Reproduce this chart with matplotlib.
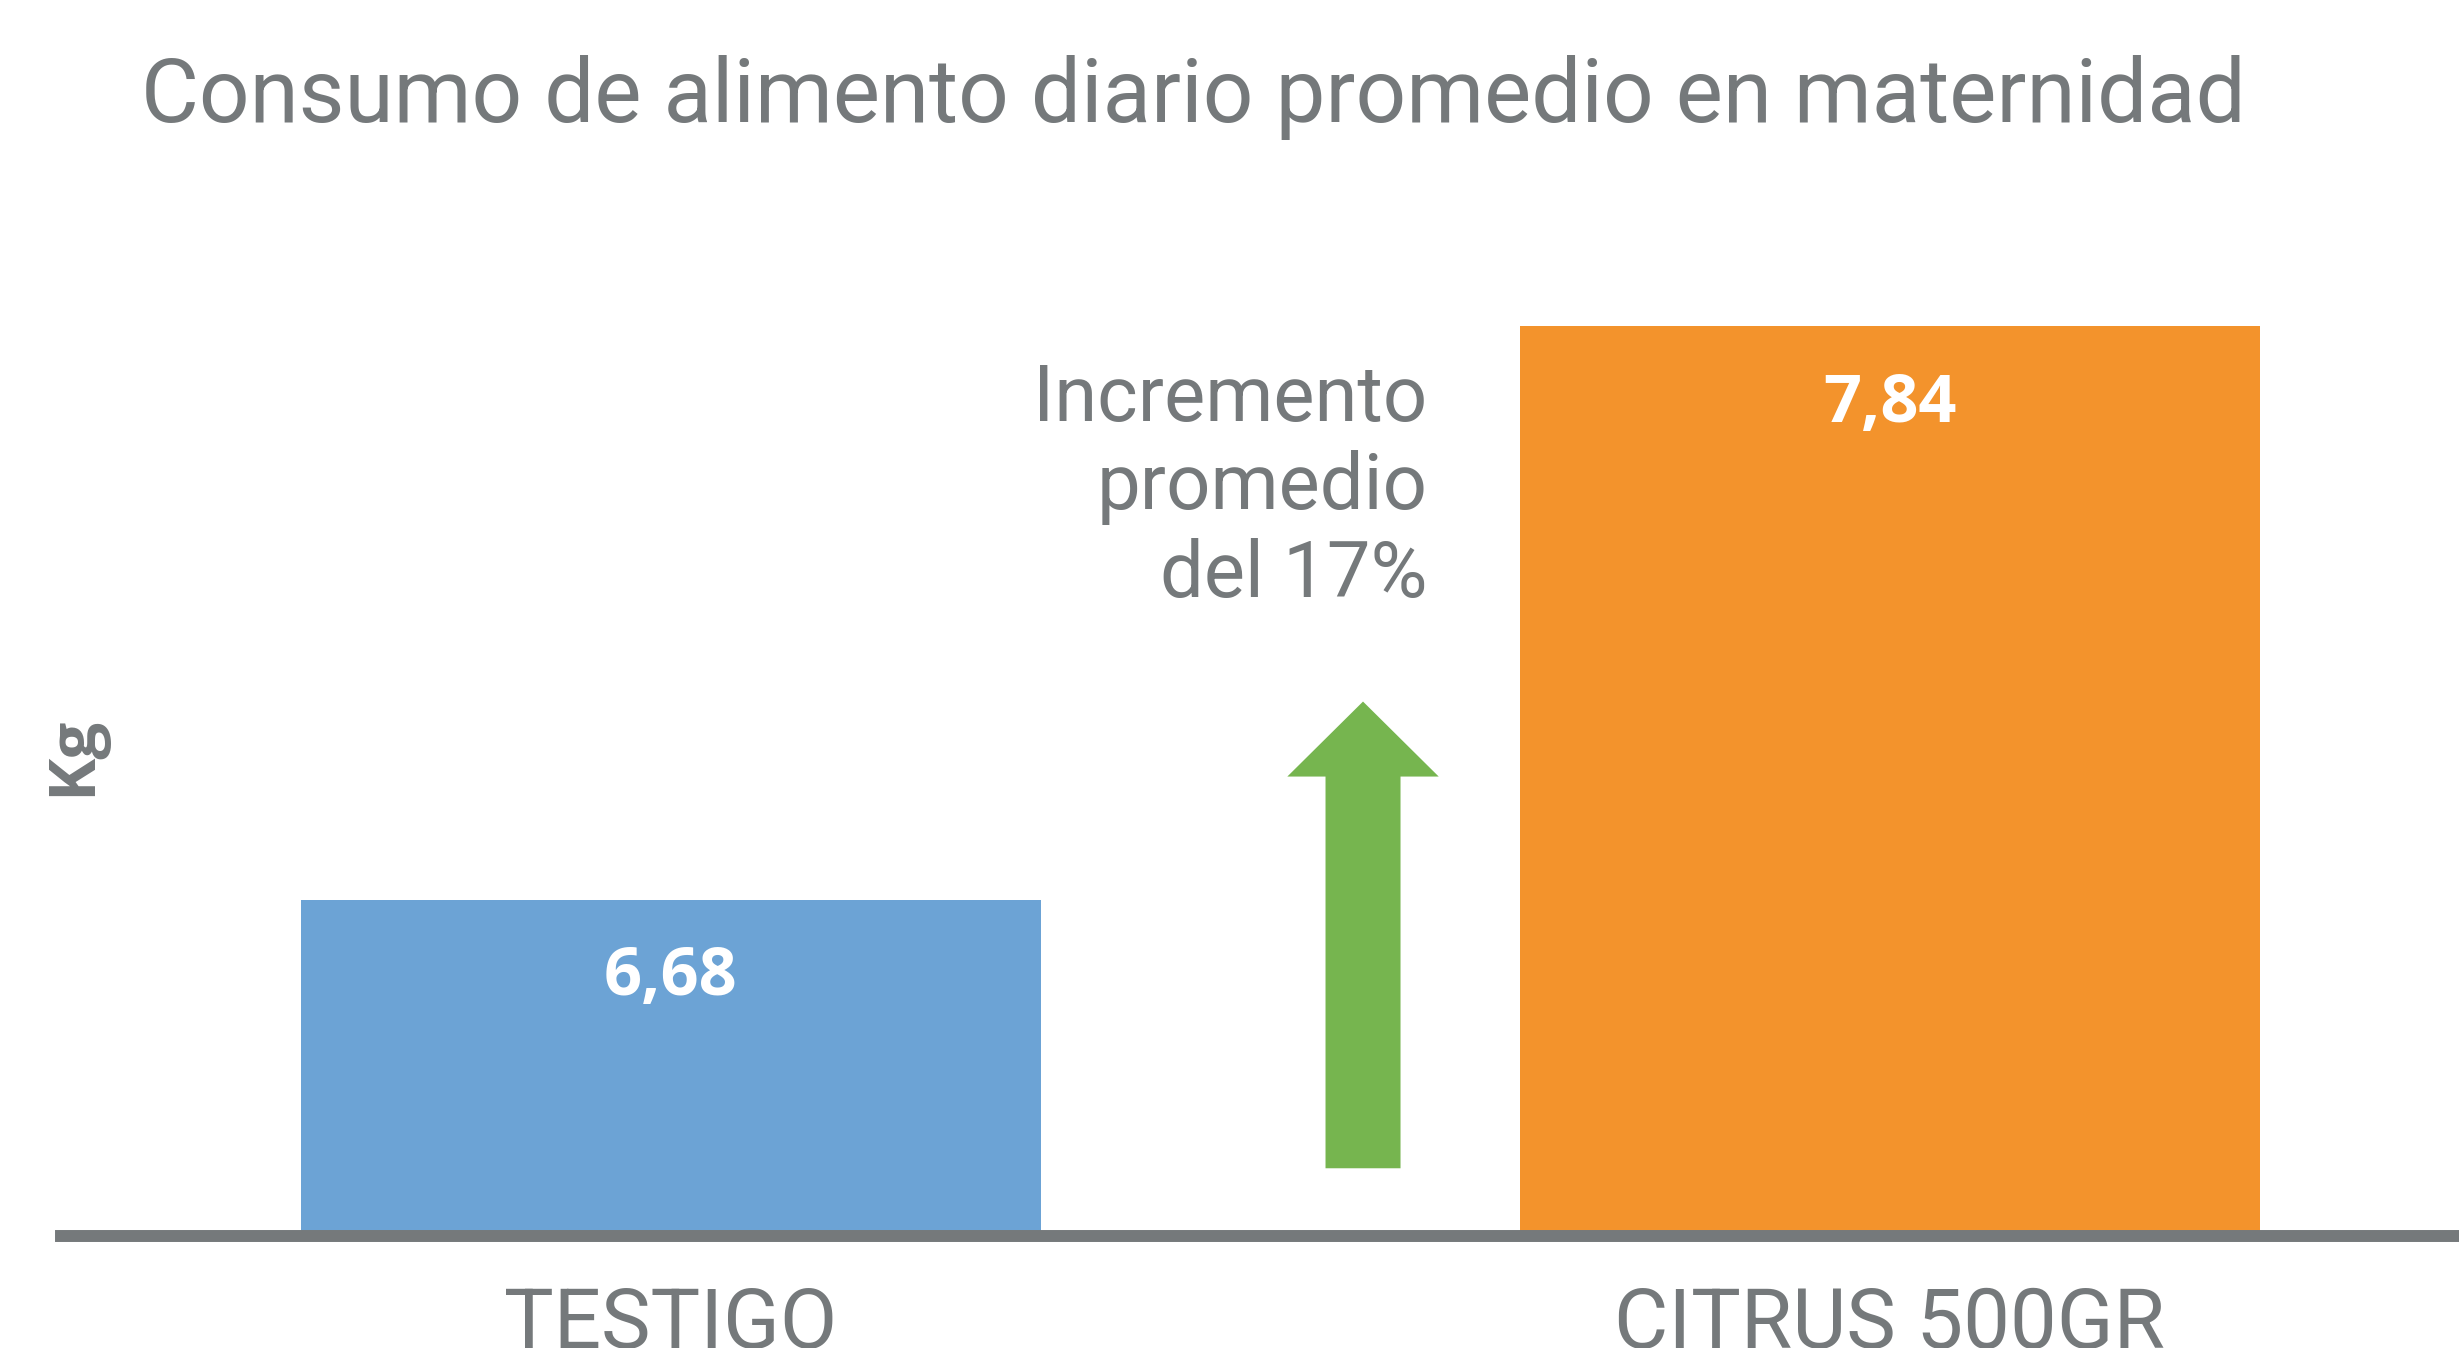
import numpy as np
import matplotlib.pyplot as plt

# datos
grupos = ['TESTIGO', 'CITRUS 500GR']
consumo = [6.68, 7.84]
etiquetas = ['6,68', '7,84']
colores = ['#6ca3d5', '#f3932c']

gris = '#75797b'
verde = '#76b54f'

fig = plt.figure(figsize=(24.59, 13.48), dpi=100)
ax = fig.add_axes([61 / 2459, 112 / 1348, 1 - 61 / 2459, 1236 / 1348])

base = 6.0
x = np.arange(len(grupos))
ax.bar(x, np.array(consumo) - base, bottom=base, width=0.607, color=colores, zorder=2)

for xi, v, t in zip(x, consumo, etiquetas):
    ax.annotate(t, (xi, v), xytext=(0, -56), textcoords='offset points',
                ha='center', va='center', color='white', fontsize=48,
                fontweight='bold', family='Open Sans')

ax.set_xlim(-0.5, 1.467)
ax.set_ylim(base, 8.5)
ax.set_yticks([])
ax.set_xticks(x)
ax.set_xticklabels(grupos, fontsize=60, color=gris, family='Roboto')
ax.tick_params(axis='x', length=0, pad=35)
for s in ['top', 'right', 'left']:
    ax.spines[s].set_visible(False)
ax.spines['bottom'].set_color(gris)
ax.spines['bottom'].set_linewidth(8.6)
ax.spines['bottom'].set_zorder(3)

# flecha de incremento
ax.annotate('', xy=(0.568, 7.081), xytext=(0.568, 6.137),
            arrowprops=dict(arrowstyle='simple,head_length=54,head_width=109,tail_width=54',
                            mutation_scale=1, color=verde, shrinkA=0, shrinkB=0, lw=0))

ax.text(0.621, 7.768, 'Incremento\npromedio\ndel 17%', ha='right', va='top',
        fontsize=56, color=gris, family='Roboto', linespacing=1.22)

fig.text(141 / 2459, 1 - 122 / 1348, 'Consumo de alimento diario promedio en maternidad',
         ha='left', va='baseline', fontsize=64, color=gris, family='Roboto')

fig.text(74 / 2459, 1 - 756 / 1348, 'Kg', rotation=90, ha='center', va='center',
         fontsize=47, fontweight='bold', color=gris, family='Open Sans')

fig.savefig('out.png', dpi=100, facecolor='white')
